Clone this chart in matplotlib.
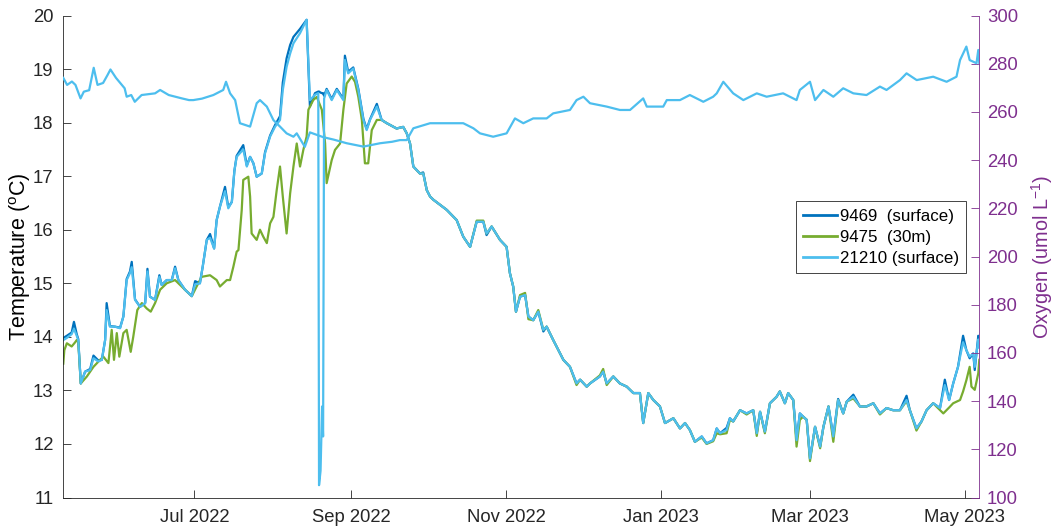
import numpy as np
import pandas as pd
import matplotlib
matplotlib.use("Agg")
import matplotlib.pyplot as plt
import matplotlib.dates as mdates

plt.rcParams['font.family'] = ['Liberation Sans', 'DejaVu Sans']
plt.rcParams['mathtext.default'] = 'regular'

# Time axis: days since 1 July 2022
ORIGIN = pd.Timestamp('2022-07-01')
x_range_days = [-51.7, 309.7]

# Surface loggers 9469 and 21210 share one sampling grid
days_surface = [
    -51.7, -50.3, -48.4, -47.5, -46.4, -45.8, -44.8, -43.1, -41.1, -39.8,
    -37.9, -36.5, -35.2, -34.6, -33.3, -31.3, -29.3, -28.0, -26.7, -25.4,
    -24.7, -23.4, -21.4, -19.4, -18.5, -17.5, -15.5, -13.8, -12.9, -10.9,
    -8.9, -7.6, -6.3, -3.7, -1.0, 0.3, 2.2, 3.3, 4.9, 6.2,
    7.8, 8.8, 10.1, 12.1, 13.4, 14.8, 15.8, 16.7, 19.3, 20.7,
    22.0, 23.3, 24.6, 26.6, 27.9, 29.9, 31.8, 33.8, 34.9, 36.4,
    37.8, 39.1, 41.7, 44.3, 45.6, 47.6, 48.9, 49.2, 49.8, 50.4,
    50.8, 51.2, 52.2, 54.2, 56.2, 58.8, 59.4, 60.7, 62.7, 64.7,
    66.7, 68.0, 69.3, 72.0, 73.9, 75.9, 79.8, 82.4, 83.8, 85.1,
    86.4, 89.0, 90.3, 91.7, 93.0, 94.3, 99.6, 103.5, 106.1, 108.8,
    111.4, 114.0, 115.3, 117.3, 120.6, 123.2, 124.5, 125.8, 126.9, 128.5,
    130.5, 131.8, 133.7, 135.7, 137.7, 139.0, 141.6, 145.6, 148.2, 150.8,
    152.2, 154.8, 156.1, 160.0, 161.3, 162.7, 165.3, 167.9, 170.6, 173.2,
    175.8, 177.1, 179.1, 181.1, 183.7, 185.7, 189.0, 191.6, 193.6, 195.5,
    197.5, 200.2, 202.1, 204.7, 206.1, 207.4, 210.0, 211.3, 212.6, 215.3,
    217.9, 220.5, 221.9, 223.2, 225.1, 227.1, 229.7, 231.0, 233.0, 234.3,
    236.3, 237.6, 238.9, 240.2, 241.6, 242.9, 244.9, 246.9, 248.2, 250.2,
    252.1, 254.0, 256.0, 257.4, 260.0, 262.6, 265.2, 267.9, 270.5, 273.1,
    275.7, 278.4, 281.0, 282.3, 284.9, 286.9, 288.9, 291.5, 294.2, 296.1,
    297.8, 299.4, 301.3, 303.3, 304.6, 305.9, 307.3, 307.9, 309.3, 309.7,
]

temp_21210 = [
    13.94, 13.98, 14.05, 14.15, 14.02, 13.94, 13.13, 13.35, 13.38, 13.60,
    13.54, 13.57, 13.94, 14.50, 14.19, 14.19, 14.16, 14.38, 15.06, 15.19,
    15.30, 14.69, 14.56, 14.63, 15.22, 14.75, 14.69, 15.12, 14.97, 15.06,
    15.06, 15.28, 15.06, 14.88, 14.76, 14.98, 15.00, 15.31, 15.81, 15.85,
    15.65, 16.18, 16.43, 16.72, 16.40, 16.52, 17.10, 17.36, 17.50, 17.18,
    17.36, 17.24, 16.99, 17.05, 17.43, 17.74, 17.92, 18.05, 18.61, 19.04,
    19.29, 19.48, 19.67, 19.92, 18.42, 18.52, 18.55, 11.23, 11.50, 12.70,
    12.14, 18.45, 18.61, 18.42, 18.61, 18.42, 19.17, 18.92, 19.01, 18.61,
    18.05, 17.86, 18.05, 18.30, 18.05, 17.99, 17.89, 17.92, 17.80, 17.61,
    17.18, 17.05, 17.05, 16.74, 16.62, 16.56, 16.37, 16.18, 15.87, 15.68,
    16.15, 16.15, 15.93, 16.06, 15.81, 15.68, 15.19, 14.94, 14.47, 14.75,
    14.78, 14.38, 14.31, 14.47, 14.13, 14.19, 13.94, 13.57, 13.44, 13.13,
    13.20, 13.07, 13.13, 13.26, 13.35, 13.13, 13.26, 13.13, 13.07, 12.95,
    12.95, 12.39, 12.95, 12.82, 12.70, 12.39, 12.48, 12.29, 12.39, 12.26,
    12.04, 12.14, 12.01, 12.07, 12.29, 12.20, 12.26, 12.48, 12.42, 12.63,
    12.57, 12.63, 12.20, 12.60, 12.23, 12.76, 12.88, 12.98, 12.76, 12.95,
    12.82, 12.07, 12.57, 12.51, 12.45, 11.73, 12.32, 11.95, 12.32, 12.70,
    12.14, 12.82, 12.57, 12.79, 12.88, 12.70, 12.70, 12.76, 12.57, 12.67,
    12.63, 12.63, 12.82, 12.63, 12.29, 12.42, 12.63, 12.76, 12.67, 13.10,
    12.82, 13.13, 13.44, 13.90, 13.75, 13.63, 13.69, 13.44, 13.95, 13.80,
]

temp_9469 = [
    13.98, 14.02, 14.08, 14.28, 14.05, 13.96, 13.13, 13.35, 13.40, 13.65,
    13.56, 13.57, 13.94, 14.63, 14.20, 14.19, 14.17, 14.38, 15.08, 15.22,
    15.40, 14.70, 14.56, 14.63, 15.27, 14.75, 14.69, 15.15, 14.97, 15.06,
    15.06, 15.31, 15.06, 14.88, 14.76, 15.04, 15.00, 15.31, 15.81, 15.92,
    15.65, 16.18, 16.43, 16.80, 16.42, 16.52, 17.10, 17.38, 17.58, 17.20,
    17.36, 17.24, 16.99, 17.05, 17.45, 17.76, 17.95, 18.12, 18.75, 19.20,
    19.45, 19.60, 19.75, 19.92, 18.30, 18.55, 18.58, 18.58, 18.56, 18.55,
    18.55, 18.50, 18.63, 18.44, 18.63, 18.44, 19.25, 18.95, 19.03, 18.63,
    18.07, 17.88, 18.06, 18.35, 18.05, 17.99, 17.89, 17.92, 17.80, 17.61,
    17.18, 17.05, 17.07, 16.74, 16.62, 16.56, 16.37, 16.18, 15.87, 15.68,
    16.15, 16.15, 15.90, 16.06, 15.81, 15.68, 15.19, 14.94, 14.47, 14.75,
    14.78, 14.38, 14.31, 14.47, 14.10, 14.19, 13.94, 13.57, 13.44, 13.13,
    13.20, 13.07, 13.13, 13.26, 13.35, 13.13, 13.26, 13.13, 13.07, 12.95,
    12.95, 12.39, 12.95, 12.82, 12.70, 12.39, 12.48, 12.29, 12.39, 12.26,
    12.04, 12.14, 12.01, 12.07, 12.29, 12.20, 12.30, 12.48, 12.42, 12.63,
    12.57, 12.63, 12.20, 12.60, 12.23, 12.76, 12.88, 12.98, 12.76, 12.95,
    12.82, 12.07, 12.57, 12.51, 12.45, 11.73, 12.32, 11.95, 12.32, 12.70,
    12.14, 12.84, 12.57, 12.79, 12.92, 12.70, 12.70, 12.76, 12.57, 12.67,
    12.63, 12.63, 12.90, 12.63, 12.29, 12.42, 12.63, 12.76, 12.67, 13.20,
    12.82, 13.13, 13.44, 14.02, 13.75, 13.60, 13.69, 13.38, 14.02, 13.85,
]

# 30 m logger 9475
days_30m = [
    -51.7, -51.3, -50.3, -48.4, -47.0, -46.4, -45.8, -44.8, -42.4, -39.8,
    -37.2, -35.9, -33.9, -32.6, -31.7, -30.6, -29.6, -28.0, -26.7, -25.1,
    -24.1, -22.5, -20.7, -18.8, -17.2, -15.5, -13.5, -10.9, -7.6, -3.7,
    -1.0, 0.9, 2.9, 6.2, 8.8, 10.1, 12.8, 14.1, 15.4, 16.7,
    17.4, 18.7, 19.3, 21.3, 22.0, 22.6, 24.6, 25.9, 27.2, 28.6,
    29.9, 31.2, 32.5, 33.8, 34.9, 36.4, 37.8, 39.1, 40.4, 41.7,
    43.0, 44.3, 45.0, 46.9, 48.3, 50.3, 51.6, 52.2, 54.2, 55.5,
    57.5, 58.8, 60.1, 62.1, 63.4, 64.7, 66.1, 67.3, 68.6, 70.0,
    72.0, 73.9, 75.9, 79.8, 82.4, 83.8, 85.1, 86.4, 89.0, 90.3,
    91.7, 93.0, 94.3, 99.6, 103.5, 106.1, 108.8, 111.4, 114.0, 115.3,
    117.3, 120.6, 123.2, 124.5, 125.8, 126.9, 128.5, 130.5, 131.8, 133.7,
    135.7, 137.7, 139.0, 141.6, 145.6, 148.2, 150.8, 152.2, 154.8, 156.1,
    160.0, 161.3, 162.7, 165.3, 167.9, 170.6, 173.2, 175.8, 177.1, 179.1,
    181.1, 183.7, 185.7, 189.0, 191.6, 193.6, 195.5, 197.5, 200.2, 202.1,
    204.7, 206.1, 207.4, 210.0, 211.3, 212.6, 215.3, 217.9, 220.5, 221.9,
    223.2, 225.1, 227.1, 229.7, 231.0, 233.0, 234.3, 236.3, 237.6, 238.9,
    240.2, 241.6, 242.9, 244.9, 246.9, 248.2, 250.2, 252.1, 254.0, 256.0,
    257.4, 260.0, 262.6, 265.2, 267.9, 270.5, 273.1, 275.7, 278.4, 281.0,
    282.3, 284.9, 286.9, 288.9, 291.5, 294.2, 295.5, 297.8, 299.4, 302.1,
    303.3, 304.6, 305.9, 306.6, 307.9, 309.3, 309.7,
]

temp_9475 = [
    13.50, 13.75, 13.88, 13.82, 13.90, 13.94, 13.90, 13.13, 13.26, 13.44,
    13.57, 13.63, 13.51, 14.13, 13.57, 14.07, 13.63, 14.07, 14.13, 13.72,
    14.00, 14.50, 14.63, 14.53, 14.47, 14.63, 14.88, 15.00, 15.06, 14.88,
    14.76, 14.94, 15.12, 15.15, 15.06, 14.94, 15.06, 15.06, 15.31, 15.59,
    15.62, 16.37, 16.93, 16.99, 16.62, 15.93, 15.81, 16.00, 15.87, 15.75,
    16.12, 16.24, 16.74, 17.18, 16.62, 15.93, 16.68, 17.18, 17.61, 17.18,
    17.49, 17.74, 18.24, 18.42, 18.48, 18.24, 17.61, 16.87, 17.30, 17.49,
    17.61, 18.24, 18.73, 18.86, 18.76, 18.48, 18.05, 17.24, 17.24, 17.86,
    18.05, 18.05, 17.99, 17.89, 17.92, 17.80, 17.61, 17.18, 17.05, 17.05,
    16.74, 16.62, 16.56, 16.37, 16.18, 15.87, 15.68, 16.17, 16.17, 15.93,
    16.06, 15.81, 15.68, 15.19, 14.94, 14.47, 14.78, 14.82, 14.33, 14.31,
    14.50, 14.13, 14.19, 13.94, 13.57, 13.44, 13.10, 13.20, 13.07, 13.13,
    13.28, 13.40, 13.10, 13.26, 13.13, 13.07, 12.95, 12.95, 12.39, 12.95,
    12.82, 12.70, 12.39, 12.48, 12.29, 12.39, 12.26, 12.04, 12.12, 12.00,
    12.05, 12.20, 12.18, 12.20, 12.45, 12.42, 12.63, 12.55, 12.63, 12.15,
    12.60, 12.20, 12.76, 12.88, 12.98, 12.76, 12.95, 12.82, 11.95, 12.45,
    12.51, 12.45, 11.68, 12.32, 11.92, 12.32, 12.70, 12.04, 12.82, 12.57,
    12.79, 12.85, 12.70, 12.70, 12.76, 12.55, 12.67, 12.63, 12.63, 12.80,
    12.63, 12.25, 12.42, 12.63, 12.76, 12.63, 12.57, 12.68, 12.76, 12.82,
    12.98, 13.19, 13.44, 13.07, 13.01, 13.32, 13.57,
]

# Dissolved oxygen from logger 21210
days_oxygen = [
    -51.7, -50.2, -48.3, -46.9, -44.9, -43.6, -41.5, -39.7, -38.2, -36.0,
    -34.2, -33.1, -30.9, -27.5, -26.7, -24.9, -23.5, -20.8, -15.5, -13.5,
    -10.1, -4.9, -2.1, -0.4, 3.0, 7.5, 11.4, 12.5, 14.1, 16.1,
    18.0, 22.0, 24.6, 25.9, 28.6, 31.2, 33.8, 36.4, 39.1, 40.4,
    43.6, 45.6, 50.9, 55.0, 60.1, 66.7, 73.3, 78.0, 81.1, 83.8,
    86.4, 93.0, 99.6, 106.1, 110.1, 112.7, 117.9, 123.2, 126.5, 129.8,
    133.7, 139.0, 141.6, 148.2, 150.8, 153.5, 156.1, 162.7, 167.9, 171.9,
    177.1, 178.5, 185.0, 186.4, 191.6, 195.5, 199.5, 200.8, 204.7, 206.1,
    208.7, 212.6, 216.6, 221.9, 225.8, 232.3, 237.6, 238.9, 242.9, 244.9,
    248.2, 252.1, 256.0, 260.0, 265.2, 270.5, 273.1, 278.4, 281.0, 285.0,
    291.5, 296.8, 300.7, 302.1, 304.6, 305.9, 308.6, 309.3, 309.7,
]

oxygen_21210 = [
    274.1, 271.2, 272.6, 271.2, 265.6, 268.4, 269.0, 278.3, 271.2, 272.0,
    275.4, 277.6, 274.1, 269.8, 266.3, 267.0, 264.2, 267.0, 267.7, 269.1,
    267.0, 265.6, 264.9, 264.9, 265.5, 267.0, 269.1, 272.5, 267.7, 264.9,
    255.3, 253.9, 263.6, 264.9, 262.2, 256.6, 253.9, 251.1, 249.7, 251.1,
    245.5, 251.5, 249.5, 248.5, 247.0, 245.6, 247.0, 247.6, 248.3, 248.3,
    253.2, 255.3, 255.3, 255.3, 253.2, 251.1, 249.7, 251.1, 257.3, 255.3,
    257.3, 257.3, 259.4, 260.8, 264.9, 266.3, 263.6, 262.2, 260.8, 260.8,
    265.6, 262.2, 262.2, 264.9, 264.9, 267.0, 264.9, 264.2, 266.3, 267.7,
    272.5, 267.7, 264.9, 267.7, 266.3, 267.7, 264.9, 269.1, 272.5, 264.9,
    269.1, 266.3, 269.8, 267.7, 267.0, 270.5, 269.1, 273.2, 276.0, 273.2,
    274.6, 272.5, 274.6, 281.5, 287.1, 281.5, 280.2, 285.7, 280.2,
]

temp_ticks = list(range(11, 21))
oxygen_ticks = list(range(100, 301, 20))
month_ticks = ['2022-07-01', '2022-09-01', '2022-11-01',
               '2023-01-01', '2023-03-01', '2023-05-01']
legend_labels = ['9469  (surface)', '9475  (30m)', '21210 (surface)']

COL_9469 = '#0072BD'
COL_9475 = '#77AC30'
COL_21210 = '#4DBEEE'
COL_O2 = '#7E2F8E'
COL_AX = '#262626'

TICK_FS = 13.3


def to_dates(days):
    return ORIGIN + pd.to_timedelta(np.asarray(days, dtype=float), unit='D')


fig = plt.figure(figsize=(10.56, 5.32), dpi=100)
ax = fig.add_axes([63.3 / 1056, 34.5 / 532, 916.0 / 1056, 482.0 / 532])

lw = 1.6
h1, = ax.plot(to_dates(days_surface), temp_9469, color=COL_9469, lw=lw)
h2, = ax.plot(to_dates(days_30m), temp_9475, color=COL_9475, lw=lw)
h3, = ax.plot(to_dates(days_surface), temp_21210, color=COL_21210, lw=lw)

ax.set_xlim(to_dates(x_range_days))
ax.set_ylim(11, 20)
ax.set_yticks(temp_ticks)
ax.set_xticks(pd.to_datetime(month_ticks))
ax.xaxis.set_major_formatter(mdates.DateFormatter('%b %Y'))
ax.tick_params(axis='both', direction='in', length=6, width=0.6,
               color=COL_AX, labelcolor=COL_AX, labelsize=TICK_FS)
ax.tick_params(axis='x', pad=8)
ax.tick_params(axis='y', pad=7)
ax.set_ylabel('Temperature ($^{o}$C)', fontsize=15.5, color='black',
              labelpad=0)
for side in ('top', 'right'):
    ax.spines[side].set_visible(False)
for side in ('left', 'bottom'):
    ax.spines[side].set_color(COL_AX)
    ax.spines[side].set_linewidth(0.6)

ax2 = ax.twinx()
ax2.plot(to_dates(days_oxygen), oxygen_21210, color=COL_21210, lw=lw)
ax2.set_ylim(100, 300)
ax2.set_yticks(oxygen_ticks)
ax2.set_xlim(to_dates(x_range_days))
ax2.tick_params(axis='y', direction='in', length=6, width=0.6,
                color=COL_O2, labelcolor=COL_O2, labelsize=TICK_FS, pad=5.5)
ax2.set_ylabel('Oxygen (umol L$^{-1}$)', fontsize=14.3, color=COL_O2,
               labelpad=8)
for side in ('top', 'left', 'bottom'):
    ax2.spines[side].set_visible(False)
ax2.spines['right'].set_color(COL_O2)
ax2.spines['right'].set_linewidth(0.6)

leg = ax2.legend([h1, h2, h3], legend_labels, loc='upper right',
                 bbox_to_anchor=(0.986, 0.615), borderaxespad=0,
                 fontsize=12.2, frameon=True, fancybox=False, framealpha=1,
                 handlelength=2.0, handletextpad=0.15, borderpad=0.45,
                 labelspacing=0.35)
leg.get_frame().set_edgecolor(COL_AX)
leg.get_frame().set_linewidth(0.6)
for line in leg.get_lines():
    line.set_linewidth(2.0)

fig.savefig('out.png', dpi=100)
